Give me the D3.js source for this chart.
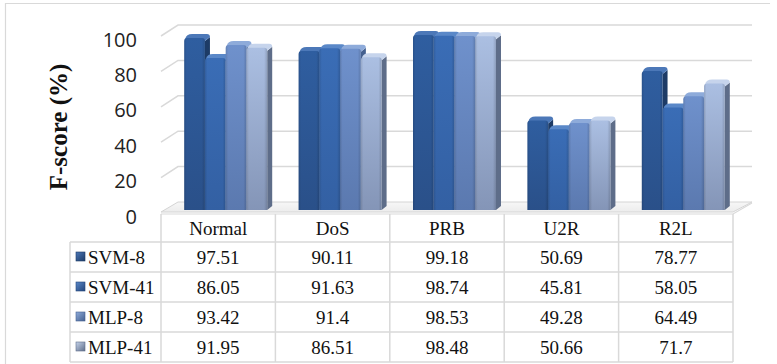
<!DOCTYPE html>
<html>
<head>
<meta charset="utf-8">
<script src="https://cdn.jsdelivr.net/npm/d3@7"></script>
<style>
  html, body { margin: 0; padding: 0; background: #fff; }
  svg { display: block; }
</style>
</head>
<body>
<svg id="chart" width="777" height="364"></svg>
<script>
// F-score per attack class for each classifier
const categories = ["Normal", "DoS", "PRB", "U2R", "R2L"];
const seriesNames = ["SVM-8", "SVM-41", "MLP-8", "MLP-41"];
const svm8  = [97.51, 90.11, 99.18, 50.69, 78.77];
const svm41 = [86.05, 91.63, 98.74, 45.81, 58.05];
const mlp8  = [93.42, 91.4, 98.53, 49.28, 64.49];
const mlp41 = [91.95, 86.51, 98.48, 50.66, 71.7];
const yTicks = [0, 20, 40, 60, 80, 100];
const yTitle = "F-score (%)";

const seriesValues = [svm8, svm41, mlp8, mlp41];

// face colours for each series: front top, front bottom, side, top cap
const palette = [
  { top: "#2F5EA0", bottom: "#2A5089", side: "#1D3B66", cap: "#4C78B8" },
  { top: "#3A6DB6", bottom: "#3360A3", side: "#23457A", cap: "#5A88C8" },
  { top: "#6F91CC", bottom: "#5B79AF", side: "#44608F", cap: "#8EABDA" },
  { top: "#ABBFE2", bottom: "#8495B7", side: "#5E6D89", cap: "#C6D4EC" }
];

const svg = d3.select("#chart");
const defs = svg.append("defs");

palette.forEach((c, i) => {
  const g = defs.append("linearGradient")
    .attr("id", "front" + i).attr("x1", 0).attr("y1", 0).attr("x2", 0).attr("y2", 1);
  g.append("stop").attr("offset", "0%").attr("stop-color", c.top);
  g.append("stop").attr("offset", "100%").attr("stop-color", c.bottom);
  const h = defs.append("linearGradient")
    .attr("id", "edge" + i).attr("x1", 0).attr("y1", 0).attr("x2", 1).attr("y2", 0);
  h.append("stop").attr("offset", "0%").attr("stop-color", "#000").attr("stop-opacity", 0.12);
  h.append("stop").attr("offset", "12%").attr("stop-color", "#000").attr("stop-opacity", 0);
  h.append("stop").attr("offset", "85%").attr("stop-color", "#000").attr("stop-opacity", 0);
  h.append("stop").attr("offset", "100%").attr("stop-color", "#000").attr("stop-opacity", 0.15);
  const m = defs.append("linearGradient")
    .attr("id", "mark" + i).attr("x1", 0).attr("y1", 0).attr("x2", 1).attr("y2", 1);
  m.append("stop").attr("offset", "0%").attr("stop-color", c.cap);
  m.append("stop").attr("offset", "100%").attr("stop-color", c.side);
});

const floorGrad = defs.append("linearGradient")
  .attr("id", "floorGrad").attr("x1", 0).attr("y1", 0).attr("x2", 0).attr("y2", 1);
floorGrad.append("stop").attr("offset", "0%").attr("stop-color", "#f7f7f7");
floorGrad.append("stop").attr("offset", "100%").attr("stop-color", "#ececec");

// outer frame (top and left edges)
svg.append("path")
  .attr("d", "M5.5,364 V3.5 H770")
  .attr("fill", "none").attr("stroke", "#d9d9d9").attr("stroke-width", 1.2);

// geometry
const x = d3.scaleBand().domain(categories).range([161, 733]).padding(0);
const xs = d3.scaleBand().domain(seriesNames).range([0, 83]).padding(0);
const yFront = d3.scaleLinear().domain([0, 100]).range([213, 36]);
const yBack = d3.scaleLinear().domain([0, 100]).range([202, 25]);
const yBar = d3.scaleLinear().domain([0, 100]).range([210, 33.5]);
const wallLeftFront = 161, wallLeftBack = 178, wallRight = 752;
const depthX = 5, depthY = -4;

// walls: gridlines on back wall plus slanted segments on the side wall
const grid = svg.append("g").attr("stroke", "#d9d9d9").attr("stroke-width", 1.5).attr("fill", "none");
yTicks.filter(v => v > 0).forEach(v => {
  grid.append("path")
    .attr("d", `M${wallLeftFront},${yFront(v)} L${wallLeftBack},${yBack(v)} H${wallRight}`);
});

// floor slab
svg.append("path")
  .attr("d", `M${wallLeftFront},${yFront(0) - 1} L${wallLeftBack},${yBack(0)} H${wallRight} L${x.range()[1]},${yFront(0) - 1} Z`)
  .attr("fill", "url(#floorGrad)").attr("stroke", "#d4d4d4").attr("stroke-width", 1);
svg.append("path")
  .attr("d", `M${wallLeftFront},${yFront(0) + 1} H${x.range()[1]} L${wallRight},${yBack(0) + 1}`)
  .attr("fill", "none").attr("stroke", "#d9d9d9").attr("stroke-width", 1.2);

// y axis tick labels
svg.append("g").selectAll("text").data(yTicks).join("text")
  .attr("x", 137).attr("y", d => yFront(d) + 3)
  .attr("text-anchor", "end").attr("dominant-baseline", "central")
  .attr("font-family", "'Open Sans', sans-serif").attr("font-size", 20)
  .attr("fill", "#222")
  .text(d => d);

// y axis title
svg.append("text")
  .attr("transform", "translate(67,127) rotate(-90)")
  .attr("text-anchor", "middle")
  .attr("font-family", "'Liberation Serif', 'Times New Roman', serif")
  .attr("font-weight", "bold").attr("font-size", 25)
  .attr("fill", "#111")
  .text(yTitle);

// 3D columns
const bars = svg.append("g");
const r = 3;
categories.forEach((cat, ci) => {
  const gx = x(cat) + x.bandwidth() / 2 - 34;
  seriesNames.forEach((s, si) => {
    const v = seriesValues[si][ci];
    const x0 = gx + xs(s), w = xs.bandwidth();
    const yt = yBar(v), yb = yBar(0);
    const c = palette[si];
    const g = bars.append("g");
    // right side face
    g.append("path")
      .attr("d", `M${x0 + w},${yt + r} L${x0 + w + depthX},${yt + r + depthY} L${x0 + w + depthX},${yb + depthY} L${x0 + w},${yb} Z`)
      .attr("fill", c.side);
    // top cap
    g.append("path")
      .attr("d", `M${x0 + 1},${yt + 1} Q${x0 + 2},${yt + depthY} ${x0 + depthX + 3},${yt + depthY}
                  H${x0 + w + depthX - 3} Q${x0 + w + depthX},${yt + depthY} ${x0 + w + depthX},${yt + r + depthY}
                  L${x0 + w},${yt + r} Z`)
      .attr("fill", c.cap);
    // front face with rounded top
    const front = `M${x0},${yb} V${yt + r} Q${x0},${yt} ${x0 + r},${yt} H${x0 + w - r} Q${x0 + w},${yt} ${x0 + w},${yt + r} V${yb} Z`;
    g.append("path").attr("d", front).attr("fill", `url(#front${si})`);
    g.append("path").attr("d", front).attr("fill", `url(#edge${si})`);
  });
});

// data table
const tableLeft = 70, headerTop = 213, dataTop = 242, rowH = 30;
const tableBottom = dataTop + rowH * seriesNames.length;
const lines = svg.append("g").attr("stroke", "#d9d9d9").attr("stroke-width", 1.5).attr("fill", "none");
const colEdges = categories.map(c => x(c)).concat([x.range()[1]]);
colEdges.forEach(cx => lines.append("line").attr("x1", cx).attr("x2", cx).attr("y1", headerTop + 1).attr("y2", tableBottom));
lines.append("line").attr("x1", tableLeft).attr("x2", tableLeft).attr("y1", dataTop).attr("y2", tableBottom);
d3.range(seriesNames.length + 1).forEach(i => {
  lines.append("line").attr("x1", tableLeft).attr("x2", x.range()[1])
    .attr("y1", dataTop + i * rowH).attr("y2", dataTop + i * rowH);
});

const serif = "'Liberation Serif', 'Times New Roman', serif";
svg.append("g").selectAll("text").data(categories).join("text")
  .attr("x", d => x(d) + x.bandwidth() / 2).attr("y", 228)
  .attr("text-anchor", "middle").attr("dominant-baseline", "central")
  .attr("font-family", serif).attr("font-size", 19).attr("fill", "#111")
  .text(d => d);

seriesNames.forEach((s, si) => {
  const cy = dataTop + si * rowH + rowH / 2;
  svg.append("rect")
    .attr("x", 76).attr("y", cy - 5).attr("width", 9).attr("height", 9)
    .attr("fill", `url(#mark${si})`).attr("stroke", palette[si].side).attr("stroke-width", 0.6);
  svg.append("text")
    .attr("x", 88).attr("y", cy)
    .attr("dominant-baseline", "central")
    .attr("font-family", serif).attr("font-size", 19).attr("fill", "#111")
    .text(s);
  svg.append("g").selectAll("text").data(seriesValues[si]).join("text")
    .attr("x", (d, ci) => x(categories[ci]) + x.bandwidth() / 2).attr("y", cy)
    .attr("text-anchor", "middle").attr("dominant-baseline", "central")
    .attr("font-family", serif).attr("font-size", 19).attr("fill", "#111")
    .text(d => d);
});
</script>
</body>
</html>
